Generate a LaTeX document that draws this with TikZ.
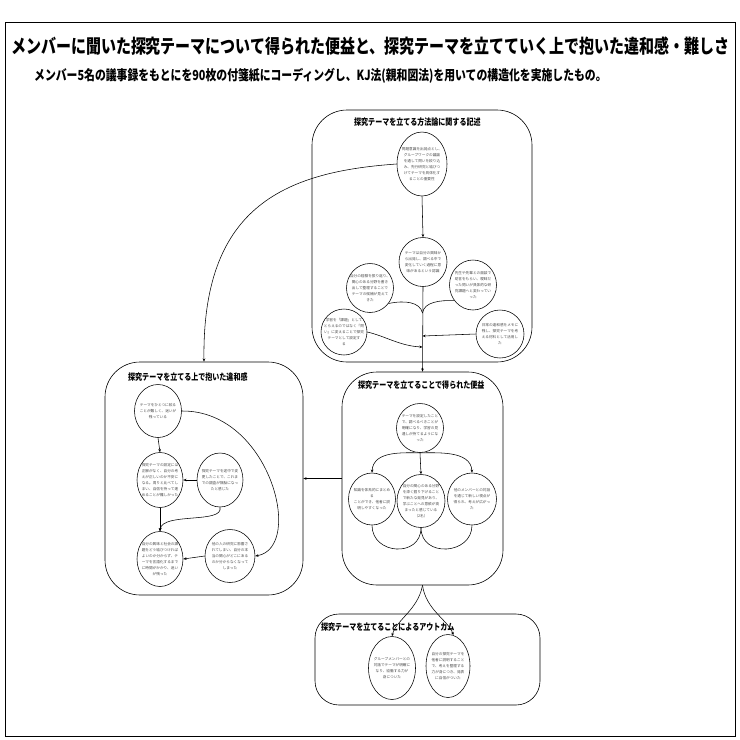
\documentclass[tikz,border=0pt]{standalone}
\usepackage{fontspec}
\usetikzlibrary{shapes.geometric,arrows.meta}
\newfontfamily\jp{Noto Sans CJK JP}
\newfontfamily\jpc[FakeStretch=0.78]{Noto Sans CJK JP}
\newcommand{\bubfont}{\jp\fontsize{3.65}{6.1}\selectfont}
\tikzset{
  grp/.style={draw, rectangle, rounded corners=35pt, line width=0.6pt, inner sep=0pt},
  bub/.style={draw, ellipse, inner sep=0pt, line width=0.55pt},
  btxt/.style={inner sep=0pt, align=center, font=\bubfont, text=black!70},
  arr/.style={-{Stealth[length=3.2pt,width=2.6pt]}, line width=0.55pt},
  ln/.style={line width=0.55pt},
  gtitle/.style={anchor=west, inner sep=0pt, font=\jpc\bfseries\fontsize{9}{9}\selectfont}
}
\begin{document}
\begin{tikzpicture}[x=1pt,y=-1pt]
\useasboundingbox (0,0) rectangle (740,740);
\fill[white] (0,0) rectangle (740,740);
\draw[line width=0.6pt] (5,22) rectangle (735,736);

\node[anchor=west, inner sep=0pt, font=\jpc\bfseries\fontsize{19.2}{20}\selectfont] (title) at (11,46)
  {メンバーに聞いた探究テーマについて得られた便益と、探究テーマを立てていく上で抱いた違和感・難しさ};
\node[anchor=west, inner sep=0pt, font=\jpc\bfseries\fontsize{13.9}{14}\selectfont] (sub) at (34,76)
  {メンバー5名の議事録をもとにを90枚の付箋紙にコーディングし、KJ法(親和図法)を用いての構造化を実施したもの。};

% groups
\node[grp, minimum width=220pt, minimum height=252pt] (B1) at (422,236) {};
\node[grp, minimum width=198pt, minimum height=233pt] (B2) at (204,478.5) {};
\node[grp, minimum width=161pt, minimum height=213pt] (B3) at (422.5,478.5) {};
\node[grp, rounded corners=24pt, minimum width=225pt, minimum height=91pt] (B4) at (427.5,659.5) {};

\node[gtitle] (B1t) at (354,122) {探究テーマを立てる方法論に関する記述};
\node[gtitle] (B2t) at (128,377) {探究テーマを立てる上で抱いた違和感};
\node[gtitle] (B3t) at (358,385) {探究テーマを立てることで得られた便益};
\node[gtitle] (B4t) at (321,627) {探究テーマを立てることによるアウトカム};

% box 1 bubbles
\node[bub, minimum width=50pt, minimum height=64pt] (C1a) at (422,164) {};
\node[btxt] (C1aT) at (C1a) {問題意識を出発点とし、\\グループワークの議論\\を通して問いを絞り込\\み、先行研究と結びつ\\けてテーマを具体化す\\ることの重要性};
\node[bub, minimum width=48pt, minimum height=49pt] (C1b) at (423,262) {};
\node[btxt] (C1bT) at (C1b) {テーマは自分の興味か\\ら出発し、調べる中で\\変化していく過程に意\\味があるという認識};
\node[bub, minimum width=47pt, minimum height=49pt] (C1c) at (370,288) {};
\node[btxt] (C1cT) at (C1c) {自分の経験を振り返り、\\関心のある分野を書き\\出して整理することで\\テーマの候補が見えて\\きた};
\node[bub, minimum width=47pt, minimum height=50pt] (C1d) at (473,285) {};
\node[btxt] (C1dT) at (C1d) {先生や先輩との面談で\\助言をもらい、曖昧だ\\った問いが具体的な研\\究課題へと変わってい\\った};
\node[bub, minimum width=46pt, minimum height=46pt] (C1e) at (344,332) {};
\node[btxt] (C1eT) at (C1e) {学習を「課題」として\\とらえるのではなく「問\\い」に変えることで探究\\テーマとして設定す\\る};
\node[bub, minimum width=48pt, minimum height=48pt] (C1f) at (500,334) {};
\node[btxt] (C1fT) at (C1f) {日常の違和感をメモに\\残し、探究テーマを考\\える材料として活用し\\た};

\coordinate (t1) at (422.5,313);
\coordinate (t2) at (422.5,347);
\coordinate (t3) at (422.5,336);

\draw[arr] (C1a.south) -- (C1b.north);
\draw[arr] (C1b.south) -- (B3.north);
\draw[ln] (C1c.-40) .. controls (405,300) and (420,302) .. (t1);
\draw[ln] (C1d.-140) .. controls (440,300) and (424,302) .. (t1);
\draw[arr] (C1e.east) .. controls (385,336) and (400,346) .. (t2);
\draw[arr] (C1f.west) -- (t3);
\draw[arr] (C1a.west) .. controls (280,172) and (202,210) .. (B2.north);

% box 3 bubbles
\node[bub, minimum width=47pt, minimum height=49pt] (C3a) at (420,428) {};
\node[btxt] (C3aT) at (C3a) {テーマを設定したこと\\で、調べるべきことが\\明確になり、学習の見\\通しが持てるようにな\\った};
\node[bub, minimum width=47pt, minimum height=52pt] (C3b) at (372,499) {};
\node[btxt] (C3bT) at (C3b) {知識を体系的にまとめ\\る\\ことができ、他者に説\\明しやすくなった};
\node[bub, minimum width=48pt, minimum height=53pt] (C3c) at (421,501) {};
\node[btxt] (C3cT) at (C3c) {自分の関心のある分野\\を深く掘り下げること\\で新たな発見があり、\\学ぶことへの意欲が高\\まったと感じている\\（2名）};
\node[bub, minimum width=49pt, minimum height=52pt] (C3d) at (472,499) {};
\node[btxt] (C3dT) at (C3d) {他のメンバーとの対話\\を通じて新しい視点が\\得られ、考えが広がっ\\た};

\draw[arr] (C3a.south) -- (C3c.north);
\draw[arr] (C3a.south) .. controls (405,453) and (373,450) .. (C3b.north);
\draw[arr] (C3a.south) .. controls (436,453) and (471,450) .. (C3d.north);
\draw[ln] (C3b.south) .. controls (372,555) and (421,558) .. (C3c.south);
\draw[ln] (C3c.south) .. controls (421,558) and (472,555) .. (C3d.south);

\draw[arr] (B3.west) -- (B2.east);

% box 2 bubbles
\node[bub, minimum width=47pt, minimum height=53pt] (C2a) at (158,411) {};
\node[btxt] (C2aT) at (C2a) {テーマをひとつに絞る\\ことが難しく、迷いが\\残っている};
\node[bub, minimum width=46pt, minimum height=55pt] (C2b) at (160,480) {};
\node[btxt] (C2bT) at (C2b) {探究テーマの設定には\\正解がなく、自分の考\\えが正しいのか不安に\\なる。周りと比べてし\\まい、自信を持って進\\めることが難しかった};
\node[bub, minimum width=46pt, minimum height=54pt] (C2c) at (220,480) {};
\node[btxt] (C2cT) at (C2c) {探究テーマを途中で変\\更したことで、これま\\での調査が無駄になっ\\たと感じた};
\node[bub, minimum width=46pt, minimum height=55pt] (C2d) at (160,559) {};
\node[btxt] (C2dT) at (C2d) {自分の興味と社会の課\\題をどう結びつければ\\よいのか分からず、テ\\ーマを言語化するまで\\に時間がかかり、迷い\\が残った};
\node[bub, minimum width=50pt, minimum height=53pt] (C2e) at (230,556) {};
\node[btxt] (C2eT) at (C2e) {他の人の研究に影響さ\\れてしまい、自分の本\\当の関心がどこにある\\のか分からなくなって\\しまった};

\draw[arr] (C2a.south) -- (C2b.north);
\draw[arr] (C2b.south) -- (C2d.north);
\draw[arr] (C2c.west) -- (C2b.east);
\draw[arr] (C2e.west) -- (C2d.east);
\draw[arr] (C2a.east) .. controls (270,410) and (305,548) .. (C2e.east);
\draw[arr] (C2c.south) .. controls (224,524) and (162,512) .. (C2d.north);

% box 4 bubbles
\node[bub, minimum width=47pt, minimum height=63pt] (C4a) at (392,668) {};
\node[btxt] (C4aT) at (C4a) {グループメンバーとの\\対話でテーマが明確に\\なり、協働する力が\\身についた};
\node[bub, minimum width=44pt, minimum height=63pt] (C4b) at (448,666) {};
\node[btxt] (C4bT) at (C4b) {自分の探究テーマを\\他者に説明すること\\で、考えを整理する\\力が身につき、発表\\に自信がついた};

\draw[arr] (B3.south) .. controls (418,610) and (396,620) .. (C4a.north);
\draw[arr] (B3.south) .. controls (426,610) and (448,620) .. (C4b.80);
\end{tikzpicture}
\end{document}
